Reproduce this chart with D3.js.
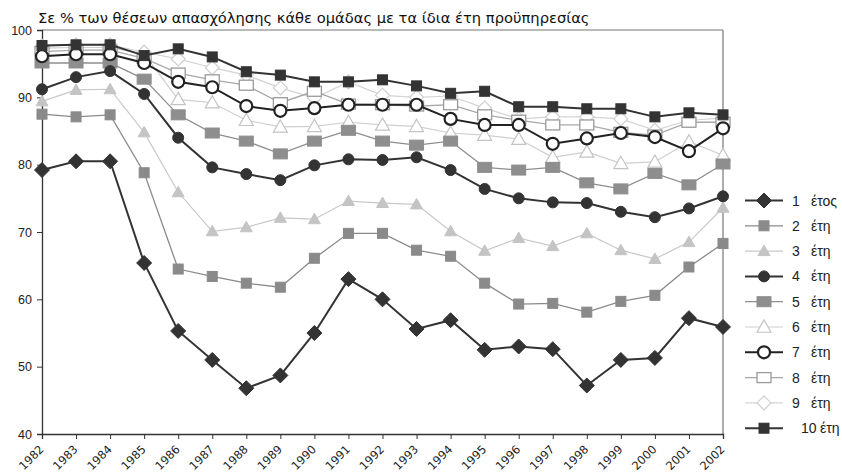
<!DOCTYPE html>
<html><head><meta charset="utf-8">
<script src="https://cdn.jsdelivr.net/npm/d3@7"></script>
<style>body{margin:0;background:#fff}svg{display:block;font-family:"Liberation Sans",Arial,sans-serif}</style>
</head><body><svg id="c" width="842" height="475"></svg>
<script>
const years = [1982,1983,1984,1985,1986,1987,1988,1989,1990,1991,1992,1993,1994,1995,1996,1997,1998,1999,2000,2001,2002];
const yTicks = [40,50,60,70,80,90,100];
const title = "Σε % των θέσεων απασχόλησης κάθε ομάδας με τα ίδια έτη προϋπηρεσίας";
const seriesNames = ["1","2","3","4","5","6","7","8","9","10"];
const seriesWords = ["έτος","έτη","έτη","έτη","έτη","έτη","έτη","έτη","έτη","έτη"];
const s1  = [79.2,80.5,80.5,65.4,55.3,51.0,46.8,48.7,55.0,63.0,60.0,55.6,56.9,52.5,53.0,52.6,47.2,51.0,51.3,57.2,55.9];
const s2  = [87.5,87.1,87.4,78.8,64.5,63.4,62.4,61.8,66.1,69.8,69.8,67.3,66.4,62.4,59.3,59.4,58.1,59.7,60.6,64.8,68.3];
const s3  = [89.4,91.1,91.2,84.8,75.9,70.1,70.7,72.1,71.9,74.6,74.3,74.1,70.1,67.2,69.1,67.9,69.8,67.3,66.0,68.5,73.6];
const s4  = [91.2,93.0,93.9,90.5,84.0,79.6,78.6,77.7,79.9,80.8,80.7,81.1,79.2,76.4,75.0,74.4,74.3,73.0,72.2,73.5,75.3];
const s5  = [95.1,95.1,95.1,92.7,87.4,84.7,83.5,81.6,83.5,85.1,83.5,82.9,83.5,79.6,79.2,79.6,77.3,76.4,78.7,77.0,80.1];
const s6  = [97.3,97.4,97.4,96.4,89.7,89.2,86.6,85.6,85.7,86.3,85.9,85.7,84.7,84.4,83.8,81.1,81.9,80.2,80.4,83.4,81.4];
const s7  = [96.1,96.4,96.4,95.1,92.3,91.5,88.7,88.0,88.4,88.9,88.9,88.9,86.8,85.9,85.9,83.1,83.9,84.7,84.1,82.0,85.4];
const s8  = [96.8,97.0,97.0,95.8,93.6,92.6,91.8,89.2,90.9,89.0,88.9,88.7,88.9,87.4,86.6,85.9,85.9,84.8,84.4,86.3,86.3];
const s9  = [97.6,97.8,97.8,96.7,95.7,94.4,93.3,91.4,89.9,92.3,90.3,90.0,90.2,88.4,86.8,87.1,87.1,86.8,85.1,86.6,86.9];
const s10 = [97.7,97.8,97.8,96.2,97.2,96.0,93.8,93.3,92.3,92.3,92.6,91.7,90.6,90.9,88.6,88.6,88.3,88.3,87.1,87.7,87.4];
const allSeries = [s1,s2,s3,s4,s5,s6,s7,s8,s9,s10];

const styles = [
  {shape:"diamond", size:7.5, fill:"#333", stroke:"#333", line:"#333", lw:2},
  {shape:"square", w:10, h:10, fill:"#8a8a8a", stroke:"#8a8a8a", line:"#8a8a8a", lw:1.3},
  {shape:"triangle", size:6, fill:"#c4c4c4", stroke:"#c4c4c4", line:"#c8c8c8", lw:1.2},
  {shape:"circle", r:5.5, fill:"#333", stroke:"#333", line:"#333", lw:2},
  {shape:"square", w:14, h:10, fill:"#8e8e8e", stroke:"#8e8e8e", line:"#8e8e8e", lw:1.3},
  {shape:"triangle", size:7, fill:"#fff", stroke:"#c4c4c4", line:"#cfcfcf", lw:1.2, sw:1.2},
  {shape:"circle", r:6, fill:"#fff", stroke:"#222", line:"#222", lw:2, sw:2.2},
  {shape:"square", w:14, h:10, fill:"#fff", stroke:"#9a9a9a", line:"#a8a8a8", lw:1.3, sw:1.3},
  {shape:"diamond", size:7, fill:"#fff", stroke:"#cfcfcf", line:"#d4d4d4", lw:1.2, sw:1.2},
  {shape:"square", w:10, h:10, fill:"#333", stroke:"#333", line:"#333", lw:2}
];

const svg = d3.select("#c");
const L = 42, R = 723, T = 30, B = 434;
const x = d3.scalePoint().domain(years).range([L, R]);
const y = d3.scaleLinear().domain([40, 100]).range([B, T]);

// title
svg.append("text").attr("x", 38).attr("y", 23).attr("font-size", 14.7)
  .attr("font-family", "'DejaVu Sans',Verdana,sans-serif").attr("fill", "#111").text(title);

// frame (top and right)
svg.append("line").attr("x1", L).attr("x2", R).attr("y1", T).attr("y2", T).attr("stroke", "#777").attr("stroke-width", 1.2);
svg.append("line").attr("x1", R).attr("x2", R).attr("y1", T).attr("y2", B).attr("stroke", "#777").attr("stroke-width", 1.2);

// axes
const yAxis = d3.axisLeft(y).tickValues(yTicks).tickSize(5).tickPadding(5);
const gy = svg.append("g").attr("transform", `translate(${L},0)`).call(yAxis);
gy.select(".domain").attr("stroke", "#333").attr("stroke-width", 1.3);
gy.selectAll(".tick line").attr("stroke", "#333");
gy.selectAll(".tick text").attr("font-size", 12.5).attr("fill", "#222").attr("font-family", "'Liberation Sans',Arial,sans-serif");

const xAxis = d3.axisBottom(x).tickSize(5).tickPadding(4);
const gx = svg.append("g").attr("transform", `translate(0,${B})`).call(xAxis);
gx.select(".domain").attr("stroke", "#333").attr("stroke-width", 1.3);
gx.selectAll(".tick line").attr("stroke", "#333");
gx.selectAll(".tick text").attr("font-size", 11.5).attr("fill", "#222")
  .attr("font-family", "'DejaVu Sans',Verdana,sans-serif")
  .attr("text-anchor", "end").attr("dy", null)
  .attr("transform", "translate(2,16) rotate(-45)").attr("y", 0).attr("x", 0);

function drawMarker(g, st, cx, cy) {
  const sw = st.sw || 1;
  if (st.shape === "diamond") {
    const s = st.size;
    g.append("path").attr("d", `M${cx},${cy-s}L${cx+s},${cy}L${cx},${cy+s}L${cx-s},${cy}Z`)
      .attr("fill", st.fill).attr("stroke", st.stroke).attr("stroke-width", sw);
  } else if (st.shape === "square") {
    g.append("rect").attr("x", cx - st.w/2).attr("y", cy - st.h/2).attr("width", st.w).attr("height", st.h)
      .attr("fill", st.fill).attr("stroke", st.stroke).attr("stroke-width", sw);
  } else if (st.shape === "triangle") {
    const s = st.size;
    g.append("path").attr("d", `M${cx},${cy-s}L${cx+s},${cy+s*0.75}L${cx-s},${cy+s*0.75}Z`)
      .attr("fill", st.fill).attr("stroke", st.stroke).attr("stroke-width", sw);
  } else {
    g.append("circle").attr("cx", cx).attr("cy", cy).attr("r", st.r)
      .attr("fill", st.fill).attr("stroke", st.stroke).attr("stroke-width", sw);
  }
}

const line = d3.line().x((d, i) => x(years[i])).y(d => y(d));
const order = [2,5,8,1,4,7,0,3,6,9];
order.forEach(k => {
  const st = styles[k];
  const g = svg.append("g");
  g.append("path").datum(allSeries[k]).attr("d", line).attr("fill", "none")
    .attr("stroke", st.line).attr("stroke-width", st.lw);
  allSeries[k].forEach((v, i) => drawMarker(g, st, x(years[i]), y(v)));
});

// legend
const lg = svg.append("g");
seriesNames.forEach((n, k) => {
  const st = styles[k];
  const ly = 200.5 + k * 25.3;
  lg.append("line").attr("x1", 745).attr("x2", 783).attr("y1", ly).attr("y2", ly)
    .attr("stroke", st.line).attr("stroke-width", st.lw);
  drawMarker(lg, st, 764, ly);
  const t = lg.append("text").attr("y", ly + 5).attr("font-size", 14).attr("fill", "#222")
    .attr("font-family", "'Liberation Sans',Arial,sans-serif");
  t.append("tspan").attr("x", n.length > 1 ? 801 : 792).text(n);
  t.append("tspan").attr("x", n.length > 1 ? 820 : 811).text(seriesWords[k]);
});
</script></body></html>
